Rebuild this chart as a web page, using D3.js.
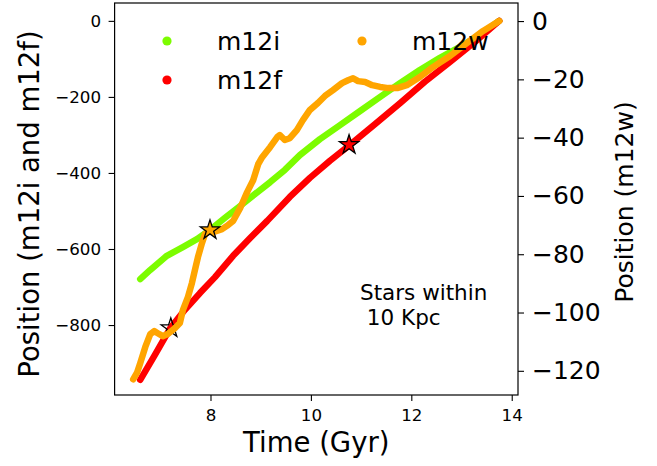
<!DOCTYPE html>
<html>
<head>
<meta charset="utf-8">
<script src="https://cdn.jsdelivr.net/npm/d3@7"></script>
<style>
	body { margin: 0; background: #fff; }
	text { font-family: "DejaVu Sans", sans-serif; fill: #000; }
</style>
</head>
<body>
<svg id="chart" width="657" height="466"></svg>
<script>
// m12i, plotted on the left axis
var m12iTime = [6.60, 6.80, 7.13, 7.45, 7.73, 7.99, 8.29, 8.59, 8.89, 9.19, 9.48, 9.78, 10.18, 10.58, 10.98, 11.38, 11.78, 12.17, 12.57, 12.97, 13.37, 13.75];
var m12iPos = [-679, -655, -618, -595, -574, -550, -518, -487, -455, -424, -392, -353, -311, -274, -237, -200, -163, -129, -97, -68, -37, 0];

// m12f, plotted on the left axis
var m12fTime = [6.60, 6.89, 7.19, 7.49, 7.79, 8.09, 8.45, 8.79, 9.13, 9.58, 9.98, 10.38, 10.78, 11.28, 11.78, 12.27, 12.77, 13.27, 13.75];
var m12fPos = [-944, -879, -810, -760, -716, -674, -618, -571, -526, -463, -413, -368, -326, -271, -216, -160, -108, -55, 0];

// m12w, plotted on the right axis
var m12wTime = [6.46, 6.54, 6.60, 6.70, 6.80, 6.88, 6.95, 7.05, 7.15, 7.29, 7.39, 7.45, 7.55, 7.63, 7.69, 7.75, 7.83, 7.89, 7.99, 8.11, 8.23, 8.35, 8.45, 8.59, 8.73, 8.85, 8.95, 9.03, 9.19, 9.33, 9.38, 9.48, 9.58, 9.72, 9.84, 9.98, 10.14, 10.28, 10.44, 10.62, 10.74, 10.84, 10.94, 11.08, 11.22, 11.38, 11.54, 11.72, 11.91, 12.17, 12.43, 12.77, 13.11, 13.43, 13.75];
var m12wPos = [-122.9, -120.5, -117.4, -111.9, -107.4, -106.4, -107.1, -108.1, -107.4, -105.4, -103.6, -99.2, -94.7, -89.9, -85.4, -81.0, -76.2, -73.1, -71.7, -72.1, -71.4, -70.0, -68.6, -64.2, -58.7, -54.6, -49.1, -46.7, -43.2, -39.8, -39.1, -40.8, -40.2, -37.4, -34.0, -30.5, -28.1, -25.7, -23.7, -21.3, -20.3, -19.6, -20.6, -20.9, -22.0, -22.6, -23.0, -23.0, -22.0, -19.2, -15.8, -12.0, -7.5, -3.4, 0];

// star markers: [time, position, axis, fill]
var starTime = [7.21, 10.76, 7.99];
var starPos = [-808, -326, -71.7];
var starAxis = ['left', 'left', 'right'];
var starFill = ['none', 'red', 'orange'];

var xTicks = [8, 10, 12, 14];
var leftTicks = [0, -200, -400, -600, -800];
var rightTicks = [0, -20, -40, -60, -80, -100, -120];

var legendNames = ['m12i', 'm12f', 'm12w'];
var legendColors = ['#7cfc00', 'red', 'orange'];

(function() {

	var svg = d3.select('#chart');

	var left = 114.6, right = 518, top = 3, bottom = 395;

	var x = d3.scaleLinear().domain([6.09, 14.125]).range([left, right]);
	var yL = d3.scaleLinear().domain([-984, 47]).range([bottom, top]);
	var yR = d3.scaleLinear().domain([-128.3, 6.2]).range([bottom, top]);

	var fmt = d3.format('d');

	// axes
	var gx = svg.append('g')
		.attr('transform', 'translate(0,' + bottom + ')')
		.call(d3.axisBottom(x).tickValues(xTicks).tickSize(6).tickPadding(8).tickFormat(fmt));
	gx.selectAll('text').style('font-size', '16.7px');

	var gl = svg.append('g')
		.attr('transform', 'translate(' + left + ',0)')
		.call(d3.axisLeft(yL).tickValues(leftTicks).tickSize(6).tickPadding(7.5).tickFormat(fmt));
	gl.selectAll('text').style('font-size', '16.7px');

	var gr = svg.append('g')
		.attr('transform', 'translate(' + right + ',0)')
		.call(d3.axisRight(yR).tickValues(rightTicks).tickSize(6).tickPadding(8).tickFormat(fmt));
	gr.selectAll('text').style('font-size', '25px');

	svg.selectAll('.domain').remove();
	svg.selectAll('.tick line').attr('stroke', '#000').attr('stroke-width', 1.1);

	function series(t, v, yScale, color) {
		var pts = t.map(function(d, i) { return [d, v[i]]; });
		svg.append('path')
			.datum(pts)
			.attr('fill', 'none')
			.attr('stroke', color)
			.attr('stroke-width', 6.5)
			.attr('stroke-linecap', 'round')
			.attr('stroke-linejoin', 'round')
			.attr('d', d3.line()
				.x(function(d) { return x(d[0]); })
				.y(function(d) { return yScale(d[1]); }));
	}

	function star(i) {
		var yScale = starAxis[i] === 'left' ? yL : yR;
		svg.append('path')
			.attr('d', d3.symbol().type(d3.symbolStar).size(115)())
			.attr('transform', 'translate(' + x(starTime[i]) + ',' + yScale(starPos[i]) + ')')
			.attr('fill', starFill[i])
			.attr('stroke', '#000')
			.attr('stroke-width', 1.3);
	}

	series(m12iTime, m12iPos, yL, legendColors[0]);
	series(m12fTime, m12fPos, yL, legendColors[1]);
	star(0);
	star(1);
	series(m12wTime, m12wPos, yR, legendColors[2]);
	star(2);

	// frame
	svg.append('rect')
		.attr('x', left)
		.attr('y', top)
		.attr('width', right - left)
		.attr('height', bottom - top)
		.attr('fill', 'none')
		.attr('stroke', '#000')
		.attr('stroke-width', 1.2);

	// legend, two columns
	var legX = [167, 167, 362];
	var legY = [41, 80, 41];
	var leg = svg.append('g').selectAll('g')
		.data(legendNames)
		.enter()
		.append('g')
		.attr('transform', function(d, i) { return 'translate(' + legX[i] + ',' + legY[i] + ')'; });

	leg.append('circle')
		.attr('r', 4.6)
		.attr('fill', function(d, i) { return legendColors[i]; });

	leg.append('text')
		.attr('x', 50)
		.attr('dy', '0.36em')
		.style('font-size', '25px')
		.text(function(d) { return d; });

	// labels
	svg.append('text')
		.attr('x', (left + right) / 2)
		.attr('y', 452)
		.attr('text-anchor', 'middle')
		.style('font-size', '27.5px')
		.text('Time (Gyr)');

	svg.append('text')
		.attr('transform', 'translate(39,204) rotate(-90)')
		.attr('text-anchor', 'middle')
		.style('font-size', '27.5px')
		.text('Position (m12i and m12f)');

	svg.append('text')
		.attr('transform', 'translate(633,202) rotate(-90)')
		.attr('text-anchor', 'middle')
		.style('font-size', '25px')
		.text('Position (m12w)');

	var note = svg.append('text')
		.style('font-size', '21.5px')
		.style('white-space', 'pre');
	note.append('tspan').attr('x', 360).attr('y', 300).text('Stars within');
	note.append('tspan').attr('x', 360).attr('y', 325).text(' 10 Kpc');

})();
</script>
</body>
</html>
